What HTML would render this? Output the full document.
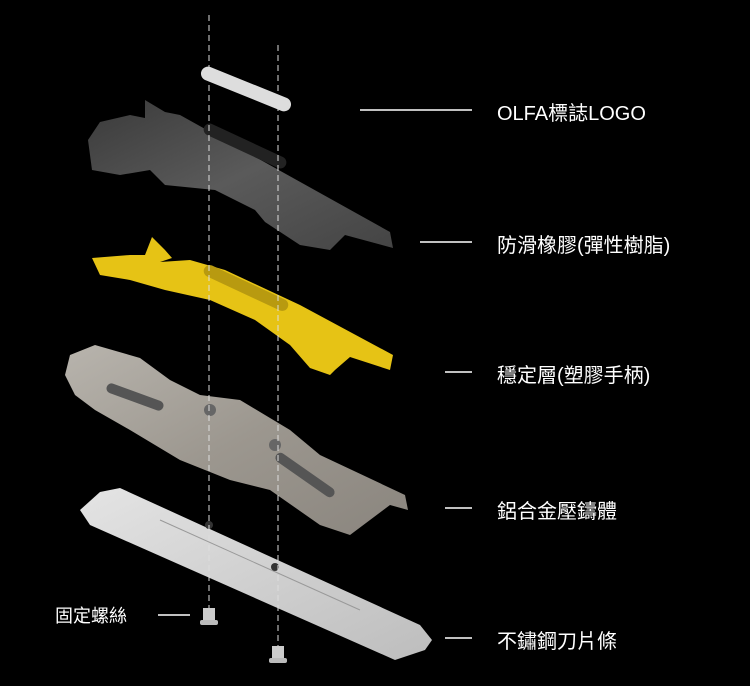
<!DOCTYPE html>
<html><head><meta charset="utf-8"><style>
html,body{margin:0;padding:0;background:#000;}
body{width:750px;height:686px;overflow:hidden;position:relative;font-family:"Liberation Sans","Noto Sans CJK TC",sans-serif;}
.l{position:absolute;color:#fff;font-size:20px;white-space:nowrap;}
</style></head><body>
<svg width="750" height="686" style="position:absolute;left:0;top:0">
<defs>
<linearGradient id="dk" x1="0" y1="0" x2="1" y2="1"><stop offset="0" stop-color="#3a3a3a"/><stop offset=".5" stop-color="#5a5a5a"/><stop offset="1" stop-color="#444"/></linearGradient>
<linearGradient id="al" x1="0" y1="0" x2="1" y2="1"><stop offset="0" stop-color="#b8b4ad"/><stop offset=".5" stop-color="#9c978f"/><stop offset="1" stop-color="#8a857e"/></linearGradient>
<linearGradient id="bl" x1="0" y1="0" x2="1" y2="1"><stop offset="0" stop-color="#e4e4e4"/><stop offset="1" stop-color="#bdbdbd"/></linearGradient>
</defs>
<!-- dark rubber -->
<polygon fill="url(#dk)" points="145,100 165,112 180,115 390,232 393,248 345,235 330,250 300,245 265,222 255,210 215,190 165,185 150,170 120,175 92,170 88,140 100,122 130,115 145,118"/>
<rect x="200" y="140" width="90" height="12" rx="6" fill="#222" transform="rotate(25 245 146)"/>
<!-- yellow -->
<polygon fill="#e6c315" points="152,237 165,250 172,258 160,262 190,260 225,270 300,305 393,355 390,370 350,357 335,370 330,375 310,368 290,345 255,320 210,300 165,290 130,280 100,275 92,258 130,255 145,255"/>
<rect x="200" y="282" width="92" height="12" rx="6" fill="#b89a10" transform="rotate(25 246 288)"/>
<!-- aluminum -->
<polygon fill="url(#al)" points="70,355 95,345 140,358 170,380 200,395 240,400 290,430 320,455 405,495 408,510 390,505 370,520 350,535 320,525 270,490 230,480 180,460 130,430 95,410 75,395 65,375"/>
<rect x="105" y="392" width="60" height="10" rx="5" fill="#555" transform="rotate(20 135 397)"/>
<rect x="270" y="470" width="70" height="10" rx="5" fill="#555" transform="rotate(35 305 475)"/>
<circle cx="210" cy="410" r="6" fill="#666"/><circle cx="275" cy="445" r="6" fill="#666"/>
<!-- blade -->
<polygon fill="url(#bl)" points="100,492 120,488 420,625 432,640 425,650 395,660 90,525 80,510"/>
<polyline fill="none" stroke="#999" stroke-width="1" points="160,520 360,610"/>
<circle cx="209" cy="525" r="4" fill="#333"/><circle cx="275" cy="567" r="4" fill="#333"/>
<!-- logo -->
<rect x="198" y="82" width="96" height="14" rx="7" fill="#ddd" transform="rotate(22 246 89)"/>
<!-- dashed -->
<line x1="209" y1="15" x2="209" y2="612" stroke="#ddd" stroke-width="1" stroke-dasharray="6,4"/>
<line x1="278" y1="45" x2="278" y2="650" stroke="#ddd" stroke-width="1" stroke-dasharray="6,4"/>
<!-- screws -->
<rect x="203" y="608" width="12" height="14" fill="#ccc"/><rect x="200" y="620" width="18" height="5" rx="2" fill="#bbb"/>
<rect x="272" y="646" width="12" height="14" fill="#ccc"/><rect x="269" y="658" width="18" height="5" rx="2" fill="#bbb"/>
<!-- leader lines -->
<g stroke="#fff" stroke-width="1.5">
<line x1="360" y1="110" x2="472" y2="110"/>
<line x1="420" y1="242" x2="472" y2="242"/>
<line x1="445" y1="372" x2="472" y2="372"/>
<line x1="445" y1="508" x2="472" y2="508"/>
<line x1="445" y1="638" x2="472" y2="638"/>
<line x1="158" y1="615" x2="190" y2="615"/>
</g>
</svg>
<div class="l" style="left:497px;top:97px">OLFA標誌LOGO</div>
<div class="l" style="left:497px;top:229px">防滑橡膠(彈性樹脂)</div>
<div class="l" style="left:497px;top:359px">穩定層(塑膠手柄)</div>
<div class="l" style="left:497px;top:495px">鋁合金壓鑄體</div>
<div class="l" style="left:497px;top:625px">不鏽鋼刀片條</div>
<div class="l" style="left:55px;top:602px;font-size:18px">固定螺絲</div>
</body></html>
